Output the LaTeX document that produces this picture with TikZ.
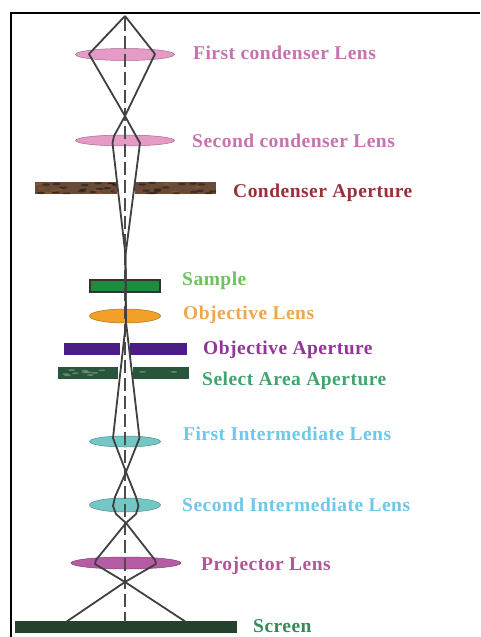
\documentclass[tikz,border=0pt]{standalone}
\usepackage{fontspec}
\setmainfont{Liberation Serif}
\newfontfamily\labfont[LetterSpace=2.5]{Liberation Serif}
\usetikzlibrary{shapes.geometric}
\definecolor{lenspink}{RGB}{230,155,198}
\definecolor{lensteal}{RGB}{115,200,198}
\definecolor{lensmag}{RGB}{182,92,165}
\definecolor{lensorange}{RGB}{242,160,40}
\definecolor{apbrown}{RGB}{105,75,55}
\definecolor{sgreen}{RGB}{30,140,60}
\definecolor{apviolet}{RGB}{75,30,135}
\definecolor{apgreen}{RGB}{40,85,60}
\definecolor{scr}{RGB}{35,65,45}
\definecolor{tpink}{RGB}{200,115,175}
\definecolor{tbrown}{RGB}{150,50,60}
\definecolor{tgreen}{RGB}{110,195,95}
\definecolor{torange}{RGB}{240,165,80}
\definecolor{tpurple}{RGB}{145,55,150}
\definecolor{tsea}{RGB}{65,165,110}
\definecolor{tblue}{RGB}{110,200,235}
\definecolor{tmag}{RGB}{180,85,150}
\definecolor{tdark}{RGB}{50,140,90}
\tikzset{
  lens/.style={ellipse,inner sep=0pt,draw=#1!70!black,fill=#1,line width=0.5pt},
  bar/.style={rectangle,inner sep=0pt,fill=#1},
  lab/.style={anchor=base west,inner sep=0pt,font=\labfont\bfseries\fontsize{19.5}{19.5}\selectfont,text=#1},
  ray/.style={draw=black!75,line width=1.8pt,line join=round},
  axis/.style={draw=black!70,line width=1.3pt,dash pattern=on 13pt off 5pt}
}
\begin{document}
\begin{tikzpicture}[x=1pt,y=-1pt]
\useasboundingbox (0,0) rectangle (480,637);
\fill[white] (0,0) rectangle (480,637);
\coordinate (bTL) at (11,13);
\coordinate (bTR) at (480,13);
\coordinate (bBL) at (11,637);
\draw[black,line width=2pt] (bBL) -- (bTL) -- (bTR);

\node[lens=lenspink,minimum width=99pt,minimum height=12pt] (L1) at (125,54.5) {};
\node[lens=lenspink,minimum width=99pt,minimum height=11pt] (L2) at (125,140.5) {};
\node[bar=apbrown,minimum width=82pt,minimum height=12pt] (CAl) at (76,188) {};
\node[bar=apbrown,minimum width=81pt,minimum height=12pt] (CAr) at (175.5,188) {};
\node[bar=sgreen,draw=black!80,line width=1.2pt,minimum width=70pt,minimum height=12pt] (S) at (125,286) {};
\node[lens=lensorange,minimum width=71pt,minimum height=14pt] (OL) at (125,316) {};
\node[bar=apviolet,minimum width=56pt,minimum height=12pt] (OAl) at (92,349) {};
\node[bar=apviolet,minimum width=57pt,minimum height=12pt] (OAr) at (158.5,349) {};
\node[bar=apgreen,minimum width=60pt,minimum height=12pt] (SAl) at (88,373) {};
\node[bar=apgreen,minimum width=56pt,minimum height=12pt] (SAr) at (161,373) {};
\node[lens=lensteal,minimum width=71pt,minimum height=11pt] (FI) at (125,441.5) {};
\node[lens=lensteal,minimum width=71pt,minimum height=14pt] (SI) at (125,505) {};
\node[lens=lensmag,minimum width=110pt,minimum height=12pt] (PL) at (126,563) {};
\node[bar=scr,minimum width=222pt,minimum height=12pt] (SC) at (126,627) {};

% mottled aperture texture
\pgfmathsetseed{7}
\begin{scope}
\clip (CAl.south west) rectangle (CAl.north east) (CAr.south west) rectangle (CAr.north east);
\foreach \i in {1,...,34}{
  \pgfmathsetmacro{\px}{35+181*rnd}
  \pgfmathsetmacro{\py}{182+12*rnd}
  \fill[black!70!apbrown,opacity=.55] (\px,\py) ellipse (4pt and 1.2pt);
}
\foreach \i in {1,...,16}{
  \pgfmathsetmacro{\px}{35+181*rnd}
  \pgfmathsetmacro{\py}{182+12*rnd}
  \fill[apbrown!70!orange,opacity=.6] (\px,\py) ellipse (3.5pt and 1pt);
}
\end{scope}
\begin{scope}
\clip (SAl.south west) rectangle (SAl.north east) (SAr.south west) rectangle (SAr.north east);
\foreach \i in {1,...,14}{
  \pgfmathsetmacro{\px}{58+131*rnd}
  \pgfmathsetmacro{\py}{370+6*rnd}
  \fill[apgreen!55!white,opacity=.6] (\px,\py) ellipse (3.5pt and .9pt);
}
\end{scope}

\coordinate (top) at (125,16);
\coordinate (a1l) at (89,54); \coordinate (a1r) at (155,54);
\coordinate (f1) at (125,116);
\coordinate (a2la) at (114,136); \coordinate (a2ra) at (136,136);
\coordinate (a2l) at (112.5,143); \coordinate (a2r) at (140,143);
\coordinate (f2) at (125.5,255);
\coordinate (f3) at (126,322);
\coordinate (a3l) at (113,438); \coordinate (a3r) at (139.5,438);
\coordinate (f4) at (126,472);
\coordinate (a4la) at (115,497); \coordinate (a4ra) at (136,497);
\coordinate (a4l) at (113,506); \coordinate (a4r) at (138.5,506);
\coordinate (a4lb) at (116,514); \coordinate (a4rb) at (136,514);
\coordinate (f5) at (126,523);
\coordinate (a5l) at (96,560); \coordinate (a5r) at (155,560);
\coordinate (a5lb) at (95,564); \coordinate (a5rb) at (156,564);
\coordinate (f6) at (125,582);
\coordinate (a6l) at (66,622); \coordinate (a6r) at (186,622);
\coordinate (axT) at (125,18);
\coordinate (axB) at (125,622);

\path[axis] (axT) -- (axB);
\path[ray] (top) -- (a1l) -- (f1) -- (a2la) -- (a2l) -- (f2) -- (f3);
\path[ray] (top) -- (a1r) -- (f1) -- (a2ra) -- (a2r) -- (f2) -- (f3);
\path[ray] (f3) -- (a3l) -- (f4) -- (a4ra) -- (a4r) -- (a4rb) -- (f5) -- (a5l) -- (a5lb) -- (f6) -- (a6r);
\path[ray] (f3) -- (a3r) -- (f4) -- (a4la) -- (a4l) -- (a4lb) -- (f5) -- (a5r) -- (a5rb) -- (f6) -- (a6l);

\node[lab=tpink] (t1) at (193,59) {First condenser Lens};
\node[lab=tpink] (t2) at (192,147) {Second condenser Lens};
\node[lab=tbrown] (t3) at (233,197) {Condenser Aperture};
\node[lab=tgreen] (t4) at (182,285) {Sample};
\node[lab=torange] (t5) at (183,319.5) {Objective Lens};
\node[lab=tpurple] (t6) at (203,354) {Objective Aperture};
\node[lab=tsea] (t7) at (202,385) {Select Area Aperture};
\node[lab=tblue] (t8) at (183,440.5) {First Intermediate Lens};
\node[lab=tblue] (t9) at (182,511) {Second Intermediate Lens};
\node[lab=tmag] (t10) at (201,570.5) {Projector Lens};
\node[lab=tdark] (t11) at (253,632.5) {Screen};
\end{tikzpicture}
\end{document}
